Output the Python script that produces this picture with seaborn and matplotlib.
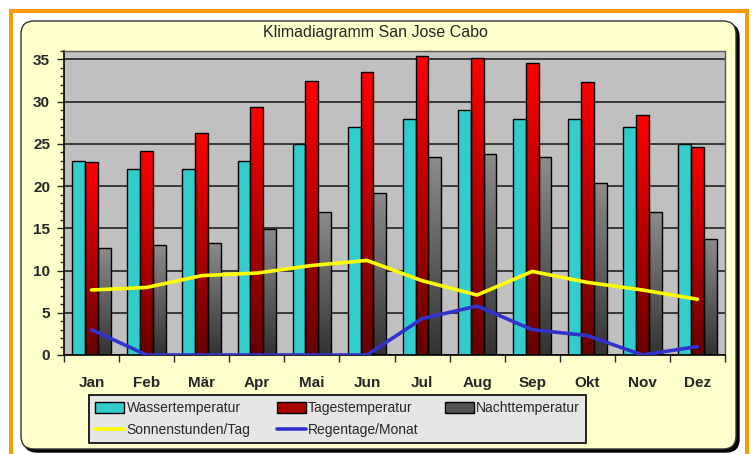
"""
Klimadiagramm San Jose Cabo - Balken (Temperaturen) + Linien (Sonne, Regen)
"""
import numpy as np
import pandas as pd
import matplotlib
matplotlib.use("Agg")
import matplotlib.pyplot as plt
import seaborn as sns
from matplotlib.patches import FancyBboxPatch, Rectangle, Patch
from matplotlib.lines import Line2D
from matplotlib.colors import LinearSegmentedColormap
from matplotlib.transforms import IdentityTransform
from matplotlib.ticker import MultipleLocator, FixedLocator

# --- Daten ---
monate = ["Jan", "Feb", "Mär", "Apr", "Mai", "Jun",
          "Jul", "Aug", "Sep", "Okt", "Nov", "Dez"]
wasser = [23, 22, 22, 23, 25, 27, 28, 29, 28, 28, 27, 25]
tag = [22.8, 24.2, 26.3, 29.4, 32.4, 33.5, 35.4, 35.2, 34.6, 32.3, 28.4, 24.6]
nacht = [12.7, 13.0, 13.3, 14.9, 16.9, 19.2, 23.4, 23.8, 23.5, 20.4, 16.9, 13.7]
sonne = [7.7, 8.0, 9.4, 9.7, 10.6, 11.2, 8.8, 7.1, 9.9, 8.6, 7.7, 6.6]
regen = [3.0, 0.0, 0.0, 0.0, 0.0, 0.0, 4.3, 5.8, 3.0, 2.3, 0.0, 1.0]

serien = ["Wassertemperatur", "Tagestemperatur", "Nachttemperatur"]

df = pd.DataFrame({
    "Monat": monate * 3,
    "Wert": wasser + tag + nacht,
    "Serie": np.repeat(serien, len(monate)),
})

sns.set_style("white")
plt.rcParams["font.family"] = ["Liberation Sans", "DejaVu Sans"]

W, H = 753, 454
fig = plt.figure(figsize=(W / 100, H / 100), dpi=100)
fig.patch.set_facecolor("white")

# Hintergrund: orangener Rahmen + gelbes Panel mit Schatten
px = IdentityTransform()
fig.add_artist(Rectangle((11, -20), 736, H - 11 + 20, transform=px,
                         facecolor="none", edgecolor="#FF9900", lw=2.9, zorder=-10))
fig.add_artist(FancyBboxPatch((24, 2), 715, 428, transform=px,
                              boxstyle="round,pad=0,rounding_size=13",
                              facecolor="black", edgecolor="black", lw=1, zorder=-9))
fig.add_artist(FancyBboxPatch((21, 5), 715, 428, transform=px,
                              boxstyle="round,pad=0,rounding_size=13",
                              facecolor="#FFFFCC", edgecolor="#333333", lw=1, zorder=-8))

ax = fig.add_axes([64 / W, 1 - 355 / H, (725 - 64) / W, (355 - 51) / H])
ax.set_facecolor("#C0C0C0")

palette = {"Wassertemperatur": "#33CCCC", "Tagestemperatur": "#CC0000",
           "Nachttemperatur": "#666666"}
sns.barplot(data=df, x="Monat", y="Wert", hue="Serie", hue_order=serien,
            order=monate, palette=palette, saturation=1, width=0.7, gap=0,
            edgecolor="black", linewidth=1, legend=False, ax=ax)

# Farbverläufe für Tages- und Nachttemperatur
verlauf = {
    1: LinearSegmentedColormap.from_list("rot", ["#660000", "#FF0000"]),
    2: LinearSegmentedColormap.from_list("grau", ["#333333", "#8C8C8C"]),
}
grad = np.linspace(0, 1, 256).reshape(-1, 1)
for i, cont in enumerate(ax.containers):
    for bar in cont:
        bar.set_zorder(2)
        if i in verlauf:
            x0, w, h = bar.get_x(), bar.get_width(), bar.get_height()
            bar.set_facecolor("none")
            im = ax.imshow(grad, cmap=verlauf[i], origin="lower", aspect="auto",
                           extent=(x0, x0 + w, 0, h), zorder=1.9)
            im.set_clip_path(bar)

x = np.arange(len(monate))
sns.lineplot(x=x, y=sonne, color="#FFFF00", lw=2.6, ax=ax, zorder=3)
sns.lineplot(x=x, y=regen, color="#3333CC", lw=2.6, ax=ax, zorder=3)

ax.set_xlim(-0.5, 11.5)
ax.set_ylim(0, 36)
ax.set_xlabel("")
ax.set_ylabel("")

# Gitter und Achsen
ax.set_yticks(range(0, 36, 5))
ax.yaxis.set_minor_locator(MultipleLocator(1))
ax.grid(axis="y", which="major", color="#222222", lw=1.2)
ax.set_axisbelow(True)
ax.xaxis.set_minor_locator(FixedLocator(np.arange(-0.5, 12, 1)))
ax.tick_params(axis="y", which="major", direction="out", length=5, width=1,
               labelsize=11, pad=5, left=True)
ax.tick_params(axis="y", which="minor", direction="out", length=3, width=1, left=True)
ax.tick_params(axis="x", which="major", length=0, labelsize=11, pad=15)
ax.tick_params(axis="x", which="minor", direction="out", length=5, width=1, bottom=True)
for lab in ax.get_xticklabels() + ax.get_yticklabels():
    lab.set_fontweight("bold")
for s in ["left", "bottom"]:
    ax.spines[s].set_color("black")
    ax.spines[s].set_linewidth(1.2)
for s in ["top", "right"]:
    ax.spines[s].set_color("#555555")
    ax.spines[s].set_linewidth(1)

fig.text(375 / W, 1 - 33 / H, "Klimadiagramm San Jose Cabo",
         ha="center", va="center", fontsize=11.5)

# Legende (zeilenweise Reihenfolge wie im Original)
h_wasser = Patch(facecolor="#33CCCC", edgecolor="black", lw=1)
h_tag = Patch(facecolor="#AA0000", edgecolor="black", lw=1)
h_nacht = Patch(facecolor="#555555", edgecolor="black", lw=1)
h_sonne = Line2D([], [], color="#FFFF00", lw=2.6)
h_regen = Line2D([], [], color="#3333CC", lw=2.6)
handles = [h_wasser, h_sonne, h_tag, h_regen, h_nacht]
labels = ["Wassertemperatur", "Sonnenstunden/Tag", "Tagestemperatur",
          "Regentage/Monat", "Nachttemperatur"]
leg = fig.legend(handles, labels, loc="upper left", ncol=3,
                 bbox_to_anchor=(89 / W, 1 - 395 / H), fontsize=10,
                 frameon=True, fancybox=False, framealpha=1,
                 facecolor="#E6E6E6", edgecolor="black",
                 handlelength=2.1, handleheight=0.8, handletextpad=0.15,
                 columnspacing=1.9, labelspacing=0.55, borderpad=0.45,
                 borderaxespad=0)
leg.get_frame().set_linewidth(1.2)

fig.savefig("out.png", dpi=100)
